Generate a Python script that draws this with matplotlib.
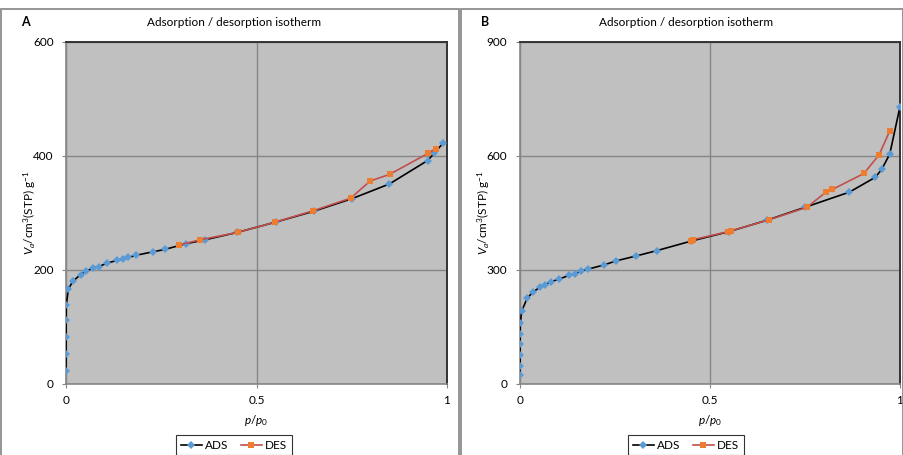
"""
Adsorption / desorption isotherms, two panels side by side.
"""

import matplotlib

matplotlib.use("Agg")
import matplotlib.pyplot as plt
from matplotlib.lines import Line2D
from matplotlib.patches import Rectangle

plt.rcParams["font.family"] = ["Lato", "DejaVu Sans"]
plt.rcParams["mathtext.fontset"] = "custom"
plt.rcParams["mathtext.rm"] = "Lato"
plt.rcParams["mathtext.it"] = "Lato:italic"

# Panel A
a_ads_p = [0.0001, 0.0002, 0.0003, 0.0005, 0.0008, 0.006, 0.0175, 0.0385, 0.0525, 0.07,
           0.086, 0.108, 0.134, 0.150, 0.164, 0.185, 0.229, 0.259, 0.314, 0.365,
           0.45, 0.55, 0.65, 0.75, 0.849, 0.949, 0.967, 0.99]
a_ads_v = [23, 53, 83, 112, 138, 166, 180, 192, 198, 203,
           206, 212, 217, 219, 222, 226, 232, 236, 246, 253,
           266, 284, 303, 325, 351, 392, 405, 423]
a_des_p = [0.971, 0.951, 0.850, 0.798, 0.747, 0.649, 0.549, 0.451, 0.352, 0.297]
a_des_v = [413, 405, 368, 356, 326, 304, 284, 266, 253, 244]

# Panel B
b_ads_p = [0.0001, 0.0002, 0.0003, 0.0004, 0.0005, 0.0008, 0.0045, 0.019, 0.035, 0.052,
           0.066, 0.081, 0.103, 0.129, 0.144, 0.160, 0.178, 0.220, 0.253, 0.306,
           0.360, 0.45, 0.55, 0.65, 0.75, 0.867, 0.935, 0.952, 0.973, 1.0]
b_ads_v = [24, 47, 76, 105, 131, 160, 192, 226, 243, 254,
           261, 269, 276, 286, 290, 297, 302, 313, 324, 337,
           351, 376, 401, 431, 465, 505, 544, 565, 605, 730]
b_des_p = [0.973, 0.945, 0.905, 0.822, 0.804, 0.755, 0.655, 0.555, 0.548, 0.456, 0.449]
b_des_v = [666, 603, 554, 512, 504, 465, 432, 403, 401, 380, 376]

panel_labels = ["A", "B"]
y_limits = [600, 900]
y_ticks = [[0, 200, 400, 600], [0, 300, 600, 900]]
x_ticks = [0, 0.5, 1]
x_tick_labels = ["0", "0.5", "1"]
title = "Adsorption / desorption isotherm"

W, H = 904, 455
ADS_LINE = "black"
ADS_MARK = "#5B9BD5"
DES_LINE = "#C0504D"
DES_MARK = "#ED7D31"
PLOT_BG = "#C0C0C0"
GRID = "#868686"


def fx(px):
    return px / W


def fy(py):
    return 1 - py / H


def draw_panel(fig, rect, frame, label, ads, des, ymax, yticks):
    # outer chart frame (Excel chart area)
    x0, x1 = frame
    fig.add_artist(Rectangle((fx(x0), fy(H + 10)), fx(x1 - x0), fy(9) - fy(H + 10),
                             transform=fig.transFigure, fill=False,
                             edgecolor="#8c8c8c", linewidth=1.3))
    cx = fx((x0 + x1) / 2 + 4)
    fig.text(cx, fy(22), title, ha="center", va="center", fontsize=8.5)
    fig.text(fx(x0 + 20), fy(22), label, ha="left", va="center", fontsize=9, fontweight="bold")

    ax = fig.add_axes(rect)
    ax.set_facecolor(PLOT_BG)
    ax.plot(ads[0], ads[1], color=ADS_LINE, lw=1.2, marker="D", ms=3.6,
            mfc=ADS_MARK, mec=ADS_MARK, mew=0, zorder=3)
    ax.plot(des[0], des[1], color=DES_LINE, lw=1.2, marker="s", ms=5,
            mfc=DES_MARK, mec=DES_MARK, mew=0, zorder=4)

    ax.set_xlim(0, 1)
    ax.set_ylim(0, ymax)
    ax.set_xticks(x_ticks)
    ax.set_xticklabels(x_tick_labels)
    ax.set_yticks(yticks)
    ax.grid(True, color=GRID, linewidth=1.0)
    ax.set_axisbelow(True)
    ax.tick_params(axis="both", labelsize=8.5, length=3, width=0.8, color=GRID, pad=6)
    ax.tick_params(axis="x", pad=5)
    for side in ("left", "bottom"):
        ax.spines[side].set_color(GRID)
        ax.spines[side].set_linewidth(1.2)
    for side in ("top", "right"):
        ax.spines[side].set_color("#333333")
        ax.spines[side].set_linewidth(1.4)

    ax.set_xlabel(r"$p$/$p_0$", fontsize=8.5, labelpad=5)
    ax.set_ylabel(r"$V_a$/cm$^3$(STP) g$^{-1}$", fontsize=8.5, labelpad=-4)

    handles = [
        Line2D([], [], color=ADS_LINE, lw=1.2, marker="D", ms=3.6, mfc=ADS_MARK, mec=ADS_MARK, mew=0),
        Line2D([], [], color=DES_LINE, lw=1.2, marker="s", ms=5, mfc=DES_MARK, mec=DES_MARK, mew=0),
    ]
    leg = fig.legend(handles, ["ADS", "DES"], loc="upper center",
                     bbox_to_anchor=(cx, fy(435)), ncol=2, fontsize=8.5,
                     frameon=True, fancybox=False, handlelength=1.8,
                     handletextpad=0.3, columnspacing=1.0, borderpad=0.4,
                     borderaxespad=0)
    leg.get_frame().set_edgecolor("black")
    leg.get_frame().set_linewidth(0.8)
    return ax


fig = plt.figure(figsize=(W / 100, H / 100), dpi=100)

draw_panel(fig, [fx(66), fy(384), fx(447 - 66), fy(42) - fy(384)], (1, 459),
           panel_labels[0], (a_ads_p, a_ads_v), (a_des_p, a_des_v), y_limits[0], y_ticks[0])
draw_panel(fig, [fx(520), fy(384), fx(900 - 520), fy(42) - fy(384)], (461, 903),
           panel_labels[1], (b_ads_p, b_ads_v), (b_des_p, b_des_v), y_limits[1], y_ticks[1])

fig.savefig("out.png", dpi=100)
plt.close(fig)
